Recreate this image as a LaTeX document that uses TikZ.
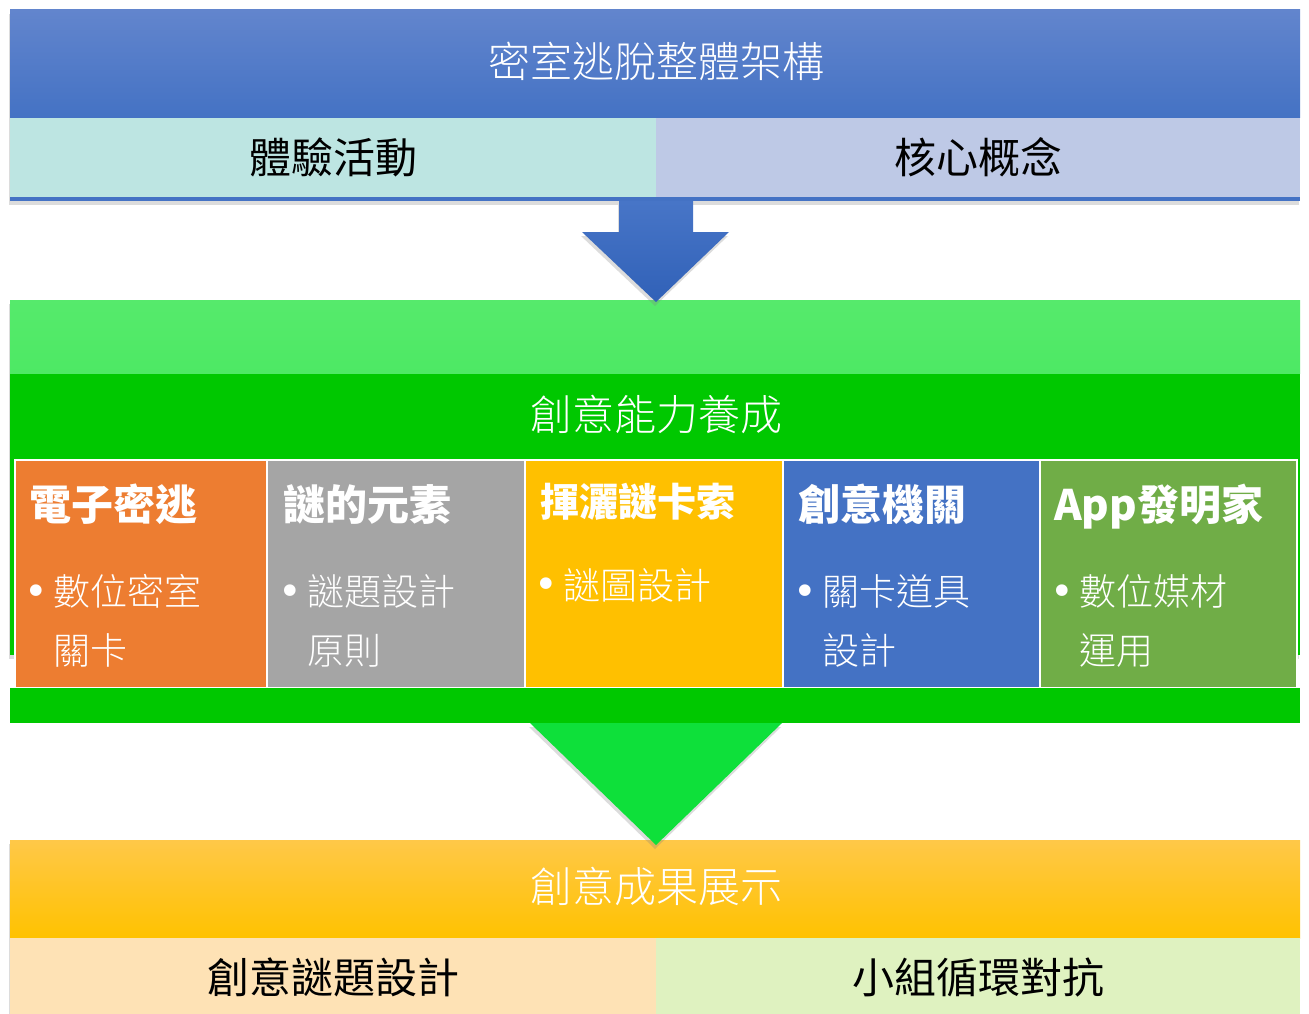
\documentclass[tikz,border=0pt]{standalone}
\usepackage{fontspec}
\usetikzlibrary{shadows}
\newfontfamily\cjk{Noto Sans CJK TC}
\newfontfamily\cjkl{Noto Sans CJK TC Light}
\newfontfamily\dejavu{DejaVu Sans}
\definecolor{hdrtop}{HTML}{6285CD}
\definecolor{hdrbot}{HTML}{4472C4}
\definecolor{teal}{HTML}{BDE5E2}
\definecolor{lav}{HTML}{BEC9E6}
\definecolor{arrowblue}{HTML}{3366C1}
\definecolor{lgreen}{HTML}{4DE964}
\definecolor{dgreen}{HTML}{00C800}
\definecolor{cor}{HTML}{ED7D31}
\definecolor{cgr}{HTML}{A5A5A5}
\definecolor{cye}{HTML}{FFC000}
\definecolor{cbl}{HTML}{4472C4}
\definecolor{cgn}{HTML}{70AD47}
\definecolor{agreen}{HTML}{0EE03A}
\definecolor{goldtop}{HTML}{FFC848}
\definecolor{goldbot}{HTML}{FFC200}
\definecolor{bisq}{HTML}{FEE2B5}
\definecolor{lime}{HTML}{DFF2C0}
\begin{document}
\begin{tikzpicture}[x=1pt,y=-1pt,
  rect/.style={inner sep=0pt, outer sep=0pt, anchor=north west, draw=none},
  shad/.style={drop shadow={opacity=0.28, shadow xshift=-1pt, shadow yshift=-4pt}},
  bigw/.style={inner sep=0pt, anchor=base, text=white, font=\cjkl\fontsize{42}{50}\selectfont},
  bigb/.style={inner sep=0pt, anchor=base, text=black, font=\cjk\fontsize{42}{50}\selectfont},
  head/.style={inner sep=0pt, anchor=base west, text=white, font=\cjk\bfseries\fontsize{42}{50}\selectfont},
  item/.style={inner sep=0pt, anchor=base west, text=white, font=\cjkl\fontsize{37}{44}\selectfont},
  bul/.style={inner sep=0pt, anchor=center, text=white, font=\dejavu\fontsize{40}{46}\selectfont},
  cbox/.style={rect, draw=white, line width=1.5pt, minimum height=228pt}
]
\useasboundingbox (0,0) rectangle (1309,1014);

% ---------- top panel ----------
\node[rect, shad, fill=hdrbot, minimum width=1290pt, minimum height=191pt] (toppanel) at (10,10) {};
\node[rect, top color=hdrtop, bottom color=hdrbot, minimum width=1290pt, minimum height=108pt] (tophead) at (10,10) {};
\node[rect, fill=teal, minimum width=646pt, minimum height=79pt] (topl) at (10,118) {};
\node[rect, fill=lav, minimum width=644pt, minimum height=79pt] (topr) at (656,118) {};
\node[bigw] (ttitle) at (656,77.5) {密室逃脫整體架構};
\node[bigb] (ttl) at (333,173.5) {體驗活動};
\node[bigb] (ttr) at (978,173.5) {核心概念};

% ---------- green panel ----------
\node[rect, shad, fill=dgreen, minimum width=1290pt, minimum height=355pt] (gpanel) at (10,300) {};
\node[rect, top color=lgreen!95!white, bottom color=lgreen, minimum width=1290pt, minimum height=73pt] (ghead) at (10,300) {};
\node[bigw] (gtitle) at (656,430.5) {創意能力養成};

\node[cbox, fill=cor, minimum width=252pt] (b1) at (15,460) {};
\node[cbox, fill=cgr, minimum width=258pt] (b2) at (267,460) {};
\node[cbox, fill=cye, minimum width=258pt] (b3) at (525,460) {};
\node[cbox, fill=cbl, minimum width=257pt] (b4) at (783,460) {};
\node[cbox, fill=cgn, minimum width=257pt] (b5) at (1040,460) {};

\node[rect, fill=dgreen, minimum width=1290pt, minimum height=35pt] (gband) at (10,688) {};

% box texts
\node[head] (h1) at (29,520.5) {電子密逃};
\node[bul] (d1) at (36,595) {•};
\node[item] (i1a) at (53,605.7) {數位密室};
\node[item] (i1b) at (53,664.7) {關卡};

\node[head] (h2) at (283,520.5) {謎的元素};
\node[bul] (d2) at (290,595) {•};
\node[item] (i2a) at (307,605.7) {謎題設計};
\node[item] (i2b) at (307,664.7) {原則};

\node[head, font=\cjk\bfseries\fontsize{39}{46}\selectfont] (h3) at (540,516.5) {揮灑謎卡索};
\node[bul] (d3) at (546,588) {•};
\node[item] (i3a) at (563,599.7) {謎圖設計};

\node[head] (h4) at (798,520.5) {創意機關};
\node[bul] (d4) at (805,595) {•};
\node[item] (i4a) at (822,605.7) {關卡道具};
\node[item] (i4b) at (822,664.7) {設計};

\node[head] (h5) at (1054,520.5) {App發明家};
\node[bul] (d5) at (1062,595) {•};
\node[item] (i5a) at (1079,605.7) {數位媒材};
\node[item] (i5b) at (1079,664.7) {運用};

% ---------- bottom panel ----------
\node[rect, shad, fill=bisq, minimum width=1290pt, minimum height=180pt] (bpanel) at (10,840) {};
\node[rect, top color=goldtop, bottom color=goldbot, minimum width=1290pt, minimum height=98pt] (bhead) at (10,840) {};
\node[rect, fill=bisq, minimum width=646pt, minimum height=82pt] (bl) at (10,938) {};
\node[rect, fill=lime, minimum width=644pt, minimum height=82pt] (br) at (656,938) {};
\node[bigw] (btitle) at (656,902.5) {創意成果展示};
\node[bigb] (btl) at (333,993.5) {創意謎題設計};
\node[bigb] (btr) at (978,993.5) {小組循環對抗};

% ---------- block arrows ----------
\fill[hdrbot] (toppanel.south west) ++(0,-4) rectangle (toppanel.south east);
\path[shad, top color=arrowblue!90!white, bottom color=arrowblue!95!black]
  (619,201) -- (693,201) -- (693,232) -- (729,232) -- (656,302) -- (582,232) -- (619,232) -- cycle;
\path[shad, fill=agreen] (530,723) -- (782,723) -- (656,845) -- cycle;
\end{tikzpicture}
\end{document}
